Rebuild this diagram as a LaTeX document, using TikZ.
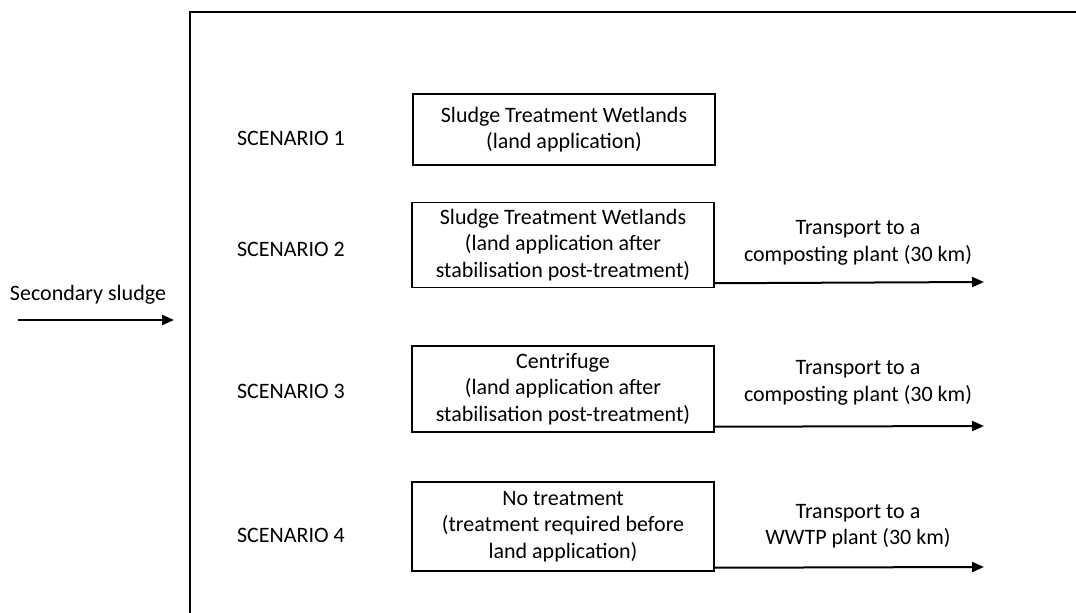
\documentclass[tikz,border=0pt]{standalone}
\usepackage{fontspec}
\setmainfont{Carlito}
\usetikzlibrary{arrows.meta}

\begin{document}
\begin{tikzpicture}[x=0.5pt,y=-0.5pt,
  font=\fontsize{11}{13.2}\selectfont,
  box/.style={draw,line width=0.75pt,minimum width=151pt,align=center,inner sep=0pt},
  flow/.style={-{Triangle[length=6pt,width=5pt]},line width=1pt}]
  \useasboundingbox (0,0) rectangle (1076,613);
  \draw[line width=0.75pt] (190,613) -- (190,12) -- (1076,12);

  \node (in) at (88,295) {Secondary sludge};
  \coordinate (in-s) at (18,320);
  \coordinate (in-e) at (174,320);
  \draw[flow] (in-s) -- (in-e);

  \node[anchor=west] (s1) at (230,138) {SCENARIO 1};
  \node[anchor=west] (s2) at (230,249) {SCENARIO 2};
  \node[anchor=west] (s3) at (230,391) {SCENARIO 3};
  \node[anchor=west] (s4) at (230,535) {SCENARIO 4};

  \node[box,minimum height=35.5pt] (b1) at (564,129.5)
    {Sludge Treatment Wetlands\\(land application)};
  \node[box,minimum height=42.5pt] (b2) at (563,245)
    {Sludge Treatment Wetlands\\(land application after\\stabilisation post-treatment)};
  \node[box,minimum height=43pt] (b3) at (563,389)
    {Centrifuge\\(land application after\\stabilisation post-treatment)};
  \node[box,minimum height=44.5pt] (b4) at (563,526.5)
    {No treatment\\(treatment required before\\land application)};

  \node[align=center] (t2) at (858,243) {Transport to a\\composting plant (30 km)};
  \node[align=center] (t3) at (858,383) {Transport to a\\composting plant (30 km)};
  \node[align=center] (t4) at (858,526) {Transport to a\\WWTP plant (30 km)};

  \coordinate (e2) at (984,282);
  \coordinate (e3) at (984,426);
  \coordinate (e4) at (984,567);
  \draw[flow] ([yshift=2.5pt]b2.south east) -- (e2);
  \draw[flow] ([yshift=3pt]b3.south east) -- (e3);
  \draw[flow] ([yshift=2pt]b4.south east) -- (e4);
\end{tikzpicture}
\end{document}
